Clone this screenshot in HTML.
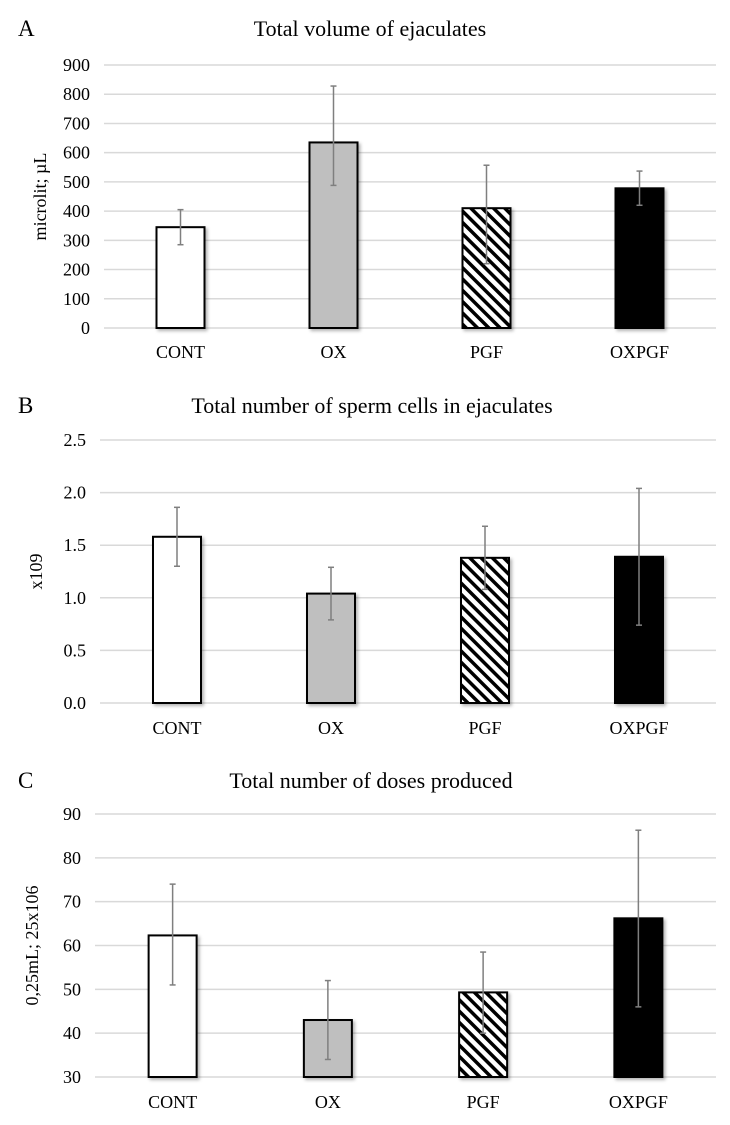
<!DOCTYPE html>
<html><head><meta charset="utf-8"><style>
html,body{margin:0;padding:0;background:#fff;}
svg{display:block;font-family:"Liberation Serif",serif;}
</style></head><body>
<svg id="fig" width="730" height="1125" viewBox="0 0 730 1125">
<defs>
<pattern id="hatch" patternUnits="userSpaceOnUse" width="8" height="8" patternTransform="rotate(-45)">
<rect width="8" height="8" fill="#fff"/><rect width="3.5" height="8" fill="#000"/>
</pattern>
<filter id="sh" x="-20%" y="-5%" width="150%" height="115%"><feDropShadow dx="2" dy="2" stdDeviation="1.5" flood-color="#000" flood-opacity="0.3"/></filter>
</defs>
</svg>
<script>
const categories = ["CONT","OX","PGF","OXPGF"];
const valuesA = [345, 635, 410, 478];
const lowA = [285, 488, 220, 420];
const highA = [405, 828, 557, 537];
const ticksA = ["0","100","200","300","400","500","600","700","800","900"];
const valuesB = [1.58, 1.04, 1.38, 1.39];
const lowB = [1.30, 0.79, 1.08, 0.74];
const highB = [1.86, 1.29, 1.68, 2.04];
const ticksB = ["0.0","0.5","1.0","1.5","2.0","2.5"];
const valuesC = [62.3, 43.0, 49.3, 66.2];
const lowC = [51, 34, 40, 46];
const highC = [74, 52, 58.5, 86.3];
const ticksC = ["30","40","50","60","70","80","90"];

const NS = "http://www.w3.org/2000/svg";
const svg = document.getElementById("fig");
const fills = ["#fff","#bfbfbf","url(#hatch)","#000"];
function mk(tag, attrs, parent){
  const e = document.createElementNS(NS, tag);
  for (const k in attrs) e.setAttribute(k, attrs[k]);
  (parent||svg).appendChild(e);
  return e;
}
function panel(cfg){
  const g = mk("g", {});
  
  
  const tmin = parseFloat(cfg.ticks[0]), tmax = parseFloat(cfg.ticks[cfg.ticks.length-1]);
  const y = v => cfg.y0 + (v - tmin) / (tmax - tmin) * (cfg.y1 - cfg.y0);
  const catW = (cfg.right - cfg.left) / categories.length;
  const x = i => cfg.left + catW * (i + 0.5);
  let t = mk("text", {x:18, y:cfg.top+8, "font-size":23}, g);
  t.textContent = cfg.letter;
  
  
  t = mk("text", {x:cfg.titleX, y:cfg.top+8, "font-size":22, "text-anchor":"middle"}, g);
  t.textContent = cfg.title;
  
  
  cfg.ticks.forEach(lbl => {
    const yy = y(parseFloat(lbl));
    const l = mk("line", {x1:cfg.left, x2:cfg.right, y1:yy, y2:yy, stroke:"#d9d9d9", "stroke-width":1.5}, g);
    
    
    const tx = mk("text", {x:cfg.left-14, y:yy+6, "font-size":18, "text-anchor":"end"}, g);
    tx.textContent = lbl;
    
    
  });
  const ay = (cfg.y0 + cfg.y1) / 2;
  t = mk("text", {x:cfg.axisX, y:ay, "font-size":18, "text-anchor":"middle", transform:`rotate(-90 ${cfg.axisX} ${ay})`}, g);
  t.textContent = cfg.axisTitle;
  
  
  cfg.values.forEach((v, i) => {
    const bw = 48, cx = x(i), top = y(v), base = y(tmin);
    const r = mk("rect", {x:cx-bw/2, y:top, width:bw, height:base-top, fill:fills[i], stroke:"#000", "stroke-width":2, filter:"url(#sh)"}, g);
    
    
    const eg = mk("g", {stroke:"#7f7f7f", "stroke-width":1.5}, g);
    
    
    const lo = y(cfg.low[i]), hi = y(cfg.high[i]);
    mk("line", {x1:cx, x2:cx, y1:lo, y2:hi}, eg);
    mk("line", {x1:cx-3, x2:cx+3, y1:lo, y2:lo}, eg);
    mk("line", {x1:cx-3, x2:cx+3, y1:hi, y2:hi}, eg);
    const tx = mk("text", {x:cx, y:cfg.catY, "font-size":18, "text-anchor":"middle"}, g);
    tx.textContent = categories[i];
    
    
  });
}
panel({name:"panel-a", letter:"A", title:"Total volume of ejaculates", titleX:370, top:28,
  left:104, right:716, y0:328, y1:65, ticks:ticksA, values:valuesA, low:lowA, high:highA,
  axisTitle:"microlit; µL", axisX:46, catY:358});
panel({name:"panel-b", letter:"B", title:"Total number of sperm cells  in ejaculates", titleX:372, top:405,
  left:100, right:716, y0:703, y1:440, ticks:ticksB, values:valuesB, low:lowB, high:highB,
  axisTitle:"x109", axisX:42, catY:734});
panel({name:"panel-c", letter:"C", title:"Total number of doses produced", titleX:371, top:780,
  left:95, right:716, y0:1077, y1:814, ticks:ticksC, values:valuesC, low:lowC, high:highC,
  axisTitle:"0,25mL; 25x106", axisX:38, catY:1108});
</script>
</body></html>
